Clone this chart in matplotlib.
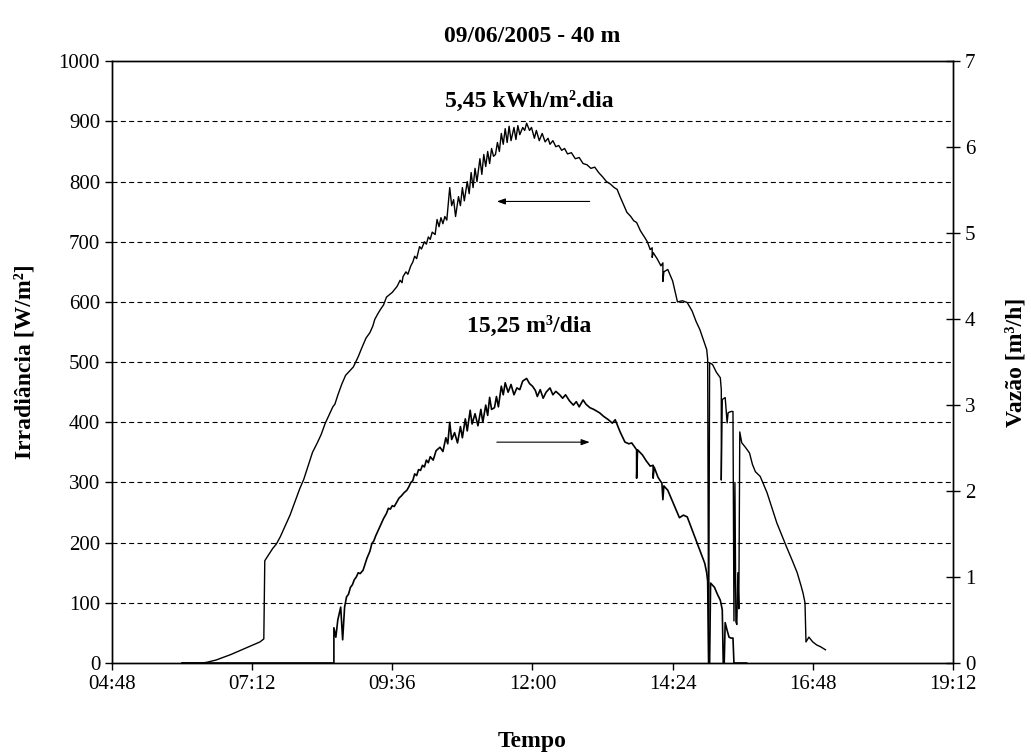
import matplotlib
matplotlib.use("Agg")
import matplotlib.pyplot as plt

plt.rcParams["font.family"] = ["Liberation Serif", "DejaVu Serif"]

# irradiance (W/m2)
irr_time = ["06:00", "06:20", "06:25", "06:30", "06:35", "06:40", "06:50", "07:00", "07:10", "07:20",
            "07:24", "07:25", "07:29", "07:33", "07:37", "07:41", "07:46", "07:51", "07:56", "08:01",
            "08:05", "08:10", "08:14", "08:19", "08:23", "08:27", "08:31", "08:35", "08:37", "08:40",
            "08:44", "08:48", "08:52", "08:56", "09:01", "09:05", "09:09", "09:13", "09:16", "09:18",
            "09:21", "09:24", "09:27", "09:30", "09:33", "09:36", "09:39", "09:41", "09:44", "09:46",
            "09:47", "09:50", "09:52", "09:55", "09:57", "09:59", "10:01", "10:04", "10:06", "10:09",
            "10:11", "10:13", "10:15", "10:17", "10:20", "10:22", "10:24", "10:26", "10:28", "10:30",
            "10:32", "10:35", "10:37", "10:39", "10:41", "10:44", "10:46", "10:48", "10:50", "10:53",
            "10:55", "10:57", "10:59", "11:01", "11:03", "11:06", "11:08", "11:10", "11:12", "11:14",
            "11:16", "11:18", "11:20", "11:22", "11:24", "11:26", "11:28", "11:30", "11:32", "11:34",
            "11:36", "11:38", "11:41", "11:43", "11:45", "11:47", "11:50", "11:52", "11:54", "11:57",
            "11:59", "12:02", "12:04", "12:07", "12:10", "12:13", "12:16", "12:18", "12:21", "12:24",
            "12:27", "12:30", "12:33", "12:36", "12:40", "12:44", "12:48", "12:52", "12:56", "13:00",
            "13:04", "13:08", "13:12", "13:16", "13:20", "13:24", "13:27", "13:30", "13:34", "13:37",
            "13:41", "13:44", "13:47", "13:51", "13:55", "13:58", "14:01", "14:03", "14:03", "14:04",
            "14:08", "14:12", "14:14", "14:14", "14:15", "14:19", "14:24", "14:29", "14:34", "14:39",
            "14:44", "14:48", "14:52", "14:56", "14:59", "15:00", "15:01", "15:02", "15:05", "15:09",
            "15:13", "15:14", "15:14", "15:15", "15:18", "15:20", "15:21", "15:24", "15:26", "15:27",
            "15:28", "15:29", "15:30", "15:31", "15:32", "15:33", "15:35", "15:39", "15:43", "15:46",
            "15:49", "15:54", "16:01", "16:06", "16:11", "16:16", "16:21", "16:27", "16:32", "16:36",
            "16:38", "16:40", "16:41", "16:44", "16:48", "16:52", "16:56", "17:01"]
irr_vals = [0, 0, 1, 3, 5, 8, 14, 21, 28, 35,
            40, 170, 180, 190, 198, 210, 228, 246, 268, 290,
            305, 330, 350, 366, 380, 398, 412, 426, 430, 445,
            463, 478, 485, 492, 509, 525, 540, 549, 560, 571,
            580, 588, 595, 608, 612, 616, 622, 626, 636, 632,
            642, 650, 646, 660, 666, 676, 672, 692, 688, 700,
            696, 708, 704, 716, 712, 737, 725, 740, 730, 742,
            736, 790, 760, 770, 742, 775, 760, 790, 768, 800,
            780, 815, 790, 822, 800, 838, 812, 845, 825, 850,
            830, 855, 842, 845, 865, 850, 880, 862, 888, 865,
            892, 868, 890, 870, 893, 878, 890, 885, 897, 885,
            890, 872, 885, 868, 880, 866, 872, 862, 868, 858,
            860, 852, 855, 846, 848, 838, 840, 830, 828, 822,
            824, 815, 808, 800, 796, 790, 787, 775, 760, 749,
            742, 735, 732, 718, 708, 700, 687, 690, 674, 682,
            672, 660, 665, 634, 650, 654, 635, 600, 602, 599,
            585, 568, 554, 535, 521, 505, 0, 499, 496, 483,
            474, 454, 304, 438, 441, 399, 416, 418, 418, 70,
            300, 68, 64, 150, 90, 384, 366, 358, 349, 330,
            318, 310, 283, 258, 233, 213, 193, 170, 150, 128,
            116, 100, 35, 43, 35, 30, 27, 22]

# flow (m3/h)
flow_time = ["06:00", "08:36", "08:36", "08:38", "08:40", "08:43", "08:45", "08:47", "08:49", "08:51",
             "08:53", "08:55", "08:57", "08:59", "09:01", "09:03", "09:06", "09:08", "09:10", "09:13",
             "09:15", "09:17", "09:19", "09:21", "09:23", "09:25", "09:27", "09:30", "09:32", "09:34",
             "09:36", "09:38", "09:40", "09:43", "09:45", "09:48", "09:51", "09:53", "09:55", "09:57",
             "09:59", "10:01", "10:03", "10:05", "10:07", "10:09", "10:11", "10:13", "10:15", "10:18",
             "10:21", "10:25", "10:28", "10:31", "10:33", "10:35", "10:37", "10:40", "10:43", "10:46",
             "10:48", "10:51", "10:53", "10:56", "10:58", "11:01", "11:04", "11:07", "11:09", "11:12",
             "11:14", "11:16", "11:18", "11:21", "11:23", "11:25", "11:28", "11:30", "11:32", "11:35",
             "11:38", "11:41", "11:44", "11:47", "11:50", "11:54", "11:57", "12:00", "12:03", "12:05",
             "12:08", "12:11", "12:14", "12:18", "12:21", "12:24", "12:28", "12:31", "12:34", "12:38",
             "12:42", "12:45", "12:48", "12:52", "12:55", "12:59", "13:03", "13:09", "13:13", "13:18",
             "13:22", "13:25", "13:30", "13:35", "13:39", "13:42", "13:47", "13:47", "13:48", "13:53",
             "13:57", "14:01", "14:04", "14:04", "14:05", "14:09", "14:13", "14:14", "14:15", "14:19",
             "14:25", "14:31", "14:35", "14:39", "14:44", "14:49", "14:53", "14:57", "14:59", "15:00",
             "15:01", "15:02", "15:03", "15:07", "15:10", "15:13", "15:15", "15:16", "15:17", "15:18",
             "15:20", "15:22", "15:24", "15:26", "15:27", "15:40"]
flow_vals = [0, 0, 0.41, 0.30, 0.50, 0.65, 0.27, 0.65, 0.77, 0.80,
             0.88, 0.91, 0.97, 1.00, 1.05, 1.04, 1.08, 1.15, 1.22, 1.30,
             1.39, 1.42, 1.48, 1.53, 1.58, 1.63, 1.68, 1.74, 1.80, 1.79,
             1.83, 1.82, 1.86, 1.92, 1.94, 1.98, 2.01, 2.05, 2.10, 2.12,
             2.20, 2.18, 2.25, 2.24, 2.30, 2.28, 2.36, 2.33, 2.40, 2.36,
             2.47, 2.51, 2.46, 2.62, 2.55, 2.80, 2.60, 2.68, 2.56, 2.75,
             2.62, 2.84, 2.70, 2.94, 2.78, 2.90, 2.76, 2.95, 2.80, 3.00,
             2.88, 3.09, 2.95, 2.97, 3.10, 2.98, 3.22, 3.12, 3.26, 3.15,
             3.24, 3.12, 3.20, 3.18, 3.28, 3.31, 3.25, 3.22, 3.17, 3.10,
             3.18, 3.08, 3.15, 3.20, 3.12, 3.16, 3.12, 3.08, 3.12, 3.05,
             3.00, 3.04, 2.98, 3.06, 3.01, 2.97, 2.95, 2.91, 2.87, 2.83,
             2.79, 2.83, 2.69, 2.57, 2.55, 2.56, 2.48, 2.15, 2.48, 2.42,
             2.35, 2.29, 2.30, 2.15, 2.28, 2.16, 2.09, 1.90, 2.06, 2.01,
             1.85, 1.69, 1.72, 1.70, 1.55, 1.40, 1.28, 1.16, 1.05, 0.95,
             0, 0, 0.93, 0.88, 0.80, 0.73, 0.62, 0, 0, 0.47,
             0.38, 0.30, 0.29, 0.29, 0, 0]

xtick_labels = ["04:48", "07:12", "09:36", "12:00", "14:24", "16:48", "19:12"]


def hours(s):
    h, m = s.split(":")
    return int(h) + int(m) / 60.0


irr_t = [hours(s) for s in irr_time]
flow_t = [hours(s) for s in flow_time]
xticks = [hours(s) for s in xtick_labels]

fig = plt.figure(figsize=(10.31, 7.56), dpi=100)
ax = fig.add_axes([0.1086, 0.123, 0.8157, 0.796])
ax2 = ax.twinx()

ax.plot(irr_t, irr_vals, color="black", lw=1.0)
ax2.plot(flow_t, flow_vals, color="black", lw=1.2)

ax.set_xlim(xticks[0], xticks[-1])
ax.set_ylim(0, 1000)
ax2.set_ylim(0, 7)
ax.set_xticks(xticks)
ax.set_xticklabels(xtick_labels)
ax.set_yticks(range(0, 1001, 100))
ax2.set_yticks(range(0, 8))

# dashed horizontal grid on the left scale only
for v in range(100, 1000, 100):
    ax.axhline(v, color="black", lw=0.8, ls=(0, (4.5, 3)), zorder=0)

for a in (ax, ax2):
    for sp in a.spines.values():
        sp.set_linewidth(1.0)
ax.tick_params(axis="both", direction="out", length=5, width=1.0, labelsize=15)
ax2.tick_params(axis="y", direction="inout", length=10, width=1.0, labelsize=15)

bold = dict(fontsize=17, fontweight="bold")
ax.set_title("09/06/2005 - 40 m", pad=14, **bold)
ax.set_xlabel("Tempo", labelpad=27, **bold)
ax.set_ylabel("Irradiância [W/m²]", labelpad=17, **bold)
ax2.set_ylabel("Vazão [m³/h]", labelpad=22, **bold)

ax.text(11.94, 934, "5,45 kWh/m².dia", ha="center", va="center", **bold)
ax.text(11.94, 560, "15,25 m³/dia", ha="center", va="center", **bold)

arrow = dict(arrowstyle="-|>,head_length=0.5,head_width=0.18", color="black", lw=0.8,
             shrinkA=0, shrinkB=0)
ax.annotate("", xy=(11.39, 767), xytext=(12.98, 767), arrowprops=arrow)
ax.annotate("", xy=(12.98, 367), xytext=(11.39, 367), arrowprops=arrow)

fig.savefig("out.png", dpi=100)
